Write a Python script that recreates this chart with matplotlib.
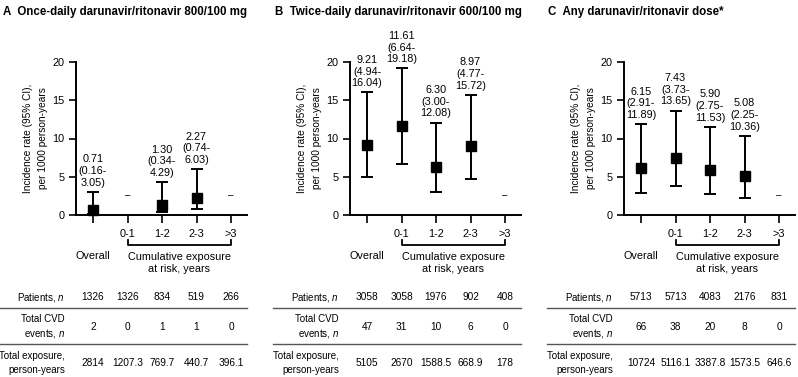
import numpy as np
import matplotlib
matplotlib.use('Agg')
import matplotlib.pyplot as plt
from matplotlib.lines import Line2D
from matplotlib.transforms import blended_transform_factory

plt.rcParams['font.family'] = ['Liberation Sans', 'DejaVu Sans']
plt.rcParams['mathtext.fontset'] = 'custom'
plt.rcParams['mathtext.rm'] = 'Liberation Sans'
plt.rcParams['mathtext.it'] = 'Liberation Sans:italic'

# ---------- Data ----------
categories = ['Overall', '0-1', '1-2', '2-3', '>3']
tick_labels = ['', '0-1', '1-2', '2-3', '>3']

titles = ['Once-daily darunavir/ritonavir 800/100 mg',
          'Twice-daily darunavir/ritonavir 600/100 mg',
          'Any darunavir/ritonavir dose*']
letters = ['A', 'B', 'C']

rate_a = [0.71, None, 1.30, 2.27, None]
low_a = [0.16, None, 0.34, 0.74, None]
high_a = [3.05, None, 4.29, 6.03, None]

rate_b = [9.21, 11.61, 6.30, 8.97, None]
low_b = [4.94, 6.64, 3.00, 4.77, None]
high_b = [16.04, 19.18, 12.08, 15.72, None]

rate_c = [6.15, 7.43, 5.90, 5.08, None]
low_c = [2.91, 3.73, 2.75, 2.25, None]
high_c = [11.89, 13.65, 11.53, 10.36, None]

patients_a = ['1326', '1326', '834', '519', '266']
events_a = ['2', '0', '1', '1', '0']
exposure_a = ['2814', '1207.3', '769.7', '440.7', '396.1']

patients_b = ['3058', '3058', '1976', '902', '408']
events_b = ['47', '31', '10', '6', '0']
exposure_b = ['5105', '2670', '1588.5', '668.9', '178']

patients_c = ['5713', '5713', '4083', '2176', '831']
events_c = ['66', '38', '20', '8', '0']
exposure_c = ['10724', '5116.1', '3387.8', '1573.5', '646.6']

panels = [
    (rate_a, low_a, high_a, patients_a, events_a, exposure_a),
    (rate_b, low_b, high_b, patients_b, events_b, exposure_b),
    (rate_c, low_c, high_c, patients_c, events_c, exposure_c),
]

# ---------- Layout (pixels) ----------
W, H = 798, 377
fig = plt.figure(figsize=(W / 100, H / 100), dpi=100)

unit = 34.5                      # px per category
xmin, xmax = -0.5, 4.45
first_x = [93, 367, 641]          # px of "Overall"
title_x = [3, 275, 548]
line_x0 = [0, 273, 547]
label_right = [65, 339, 613]
y_top, y_bot = 62, 215
fs = 7.8
fs_tab = 7.3

def fy(py):
    return 1 - py / H

for i, (rate, low, high, pat, ev, expo) in enumerate(panels):
    left = first_x[i] + xmin * unit
    width = (xmax - xmin) * unit
    ax = fig.add_axes([left / W, fy(y_bot), width / W, (y_bot - y_top) / H])
    x = np.arange(len(categories))

    for xi, r, lo, hi in zip(x, rate, low, high):
        if r is None:
            ax.text(xi, 2.6, '–', ha='center', va='center', fontsize=7)
            continue
        ax.errorbar(xi, r, yerr=[[r - lo], [hi - r]], fmt='s', color='black',
                    ms=7.5, capsize=4, elinewidth=1.4, capthick=1.4, clip_on=False)
        ax.annotate(f'{r:.2f}\n({lo:.2f}-\n{hi:.2f})', (xi, hi), xytext=(0, 3),
                    textcoords='offset points', ha='center', va='bottom',
                    fontsize=fs, linespacing=1.2, annotation_clip=False)

    ax.set_xlim(xmin, xmax)
    ax.set_ylim(0, 20)
    ax.set_yticks([0, 5, 10, 15, 20])
    ax.set_xticks(x)
    ax.set_xticklabels(tick_labels)
    ax.tick_params(axis='both', labelsize=fs, width=1.2, length=5, pad=3)
    ax.tick_params(axis='x', length=6, pad=4)
    for s in ['top', 'right']:
        ax.spines[s].set_visible(False)
    for s in ['left', 'bottom']:
        ax.spines[s].set_linewidth(1.4)
    ax.patch.set_alpha(0)
    ax.set_ylabel('Incidence rate (95% CI),\nper 1000 person-years', fontsize=7.3,
                  labelpad=3, linespacing=1.6)

    # bracket under cumulative exposure categories
    tr = blended_transform_factory(ax.transData, fig.transFigure)
    ax.plot([1, 1, 4, 4], [fy(240), fy(245), fy(245), fy(240)], color='black',
            lw=1.3, transform=tr, clip_on=False)
    ax.text(0, fy(256), 'Overall', transform=tr, ha='center', va='center', fontsize=fs)
    ax.text(2.5, fy(263), 'Cumulative exposure\nat risk, years', transform=tr,
            ha='center', va='center', fontsize=fs, linespacing=1.35)

    # table
    rows = [(pat, 297, 'Patients, $\\it{n}$'),
            (ev, 327, 'Total CVD\nevents, $\\it{n}$'),
            (expo, 363, 'Total exposure,\nperson-years')]
    for vals, py, lab in rows:
        for xi, v in zip(x, vals):
            ax.text(xi, fy(py), v, transform=tr, ha='center', va='center', fontsize=fs_tab)
        fig.text(label_right[i] / W, fy(py), lab, ha='right', va='center',
                 fontsize=7.0, linespacing=1.4)
    x1 = first_x[i] + xmax * unit
    for py in [308, 344]:
        fig.add_artist(Line2D([line_x0[i] / W, x1 / W], [fy(py), fy(py)],
                              color='#555555', lw=1.0))

    fig.text(title_x[i] / W, fy(12), f'{letters[i]}  {titles[i]}', fontsize=8.3,
             fontweight='bold', ha='left', va='center')

fig.savefig('out.png', dpi=100)
